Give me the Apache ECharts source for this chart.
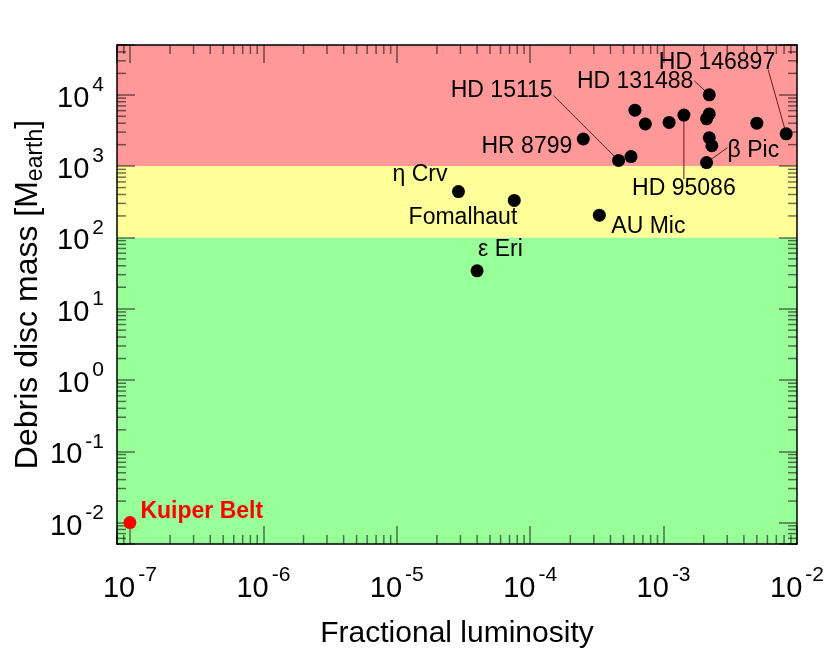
<!DOCTYPE html>
<html><head><meta charset="utf-8">
<script src="https://cdn.jsdelivr.net/npm/echarts@6/dist/echarts.min.js"></script>
<style>html,body{margin:0;padding:0;background:#fff}#c{width:830px;height:664px}</style>
</head><body><div id="c"></div>
<script>
// ---- data ----
const discNames = ['η Crv','Fomalhaut','ε Eri','AU Mic','HR 8799','HD 15115','','','','','HD 95086','HD 131488','','','','','β Pic','','HD 146897'];
const discLum  = [2.9e-5, 7.6e-5, 4.0e-5, 3.3e-4, 2.5e-4, 4.6e-4, 5.7e-4, 6.1e-4, 7.3e-4, 1.1e-3, 1.42e-3, 2.2e-3, 2.2e-3, 2.1e-3, 2.2e-3, 2.3e-3, 2.1e-3, 5.0e-3, 8.3e-3];
const discMass = [440, 330, 34, 205, 2400, 1200, 1360, 6100, 3900, 4100, 5200, 10000, 5400, 4600, 2500, 1930, 1120, 4000, 2840];
const kuiperNames = ['Kuiper Belt'];
const kuiperLum = [1e-7];
const kuiperMass = [0.01];
const xMin = 8e-8, xMax = 1e-2;
const yMin = 5e-3, yMax = 5e4;
const zoneEdges = [5e-3, 100, 1000, 5e4];
const minorMult = [2,3,4,5,6,7,8,9];
const xDecades = [-8,-7,-6,-5,-4,-3];
const yDecades = [-3,-2,-1,0,1,2,3,4];

// ---- styles ----
const FONT = '"Liberation Sans", Arial, Helvetica, sans-serif';
const zoneColors = ['#99ff99', '#ffff99', '#ff9999'];
const tickColor = 'rgba(0,0,0,0.55)';
const labelPlacement = {
  'η Crv': {dx: -11, dy: -17, align: 'right'},
  'Fomalhaut': {dx: 3, dy: 17, align: 'right'},
  'ε Eri': {dx: 1, dy: -21, align: 'left'},
  'AU Mic': {dx: 12, dy: 11, align: 'left'},
  'HR 8799': {dx: -11, dy: 8, align: 'right'},
  'HD 15115': {dx: -66, dy: -70, align: 'right', line: [-65, -65]},
  'HD 131488': {dx: -16, dy: -13, align: 'right', line: [-15, -14]},
  'HD 146897': {dx: -11, dy: -71, align: 'right', line: [-18, -64]},
  'HD 95086': {dx: 0, dy: 74, align: 'center', line: [0, 64]},
  'β Pic': {dx: 21, dy: -12, align: 'left', line: [21, -15]}
};

function powLabel(v) {
  const e = Math.log10(v), r = Math.round(e);
  if (Math.abs(e - r) > 1e-6) return '';
  return '{base|10}{sup|' + r + '}';
}
const richLabel = {
  base: {fontSize: 29, fontFamily: FONT, color: '#000', lineHeight: 48},
  sup: {fontSize: 21, fontFamily: FONT, color: '#000', verticalAlign: 'top', lineHeight: 21, padding: [0, 0, 0, 3]}
};

const xMinor = [], yMinor = [];
xDecades.forEach(e => minorMult.forEach(m => { const v = m * Math.pow(10, e); if (v >= xMin && v <= xMax) xMinor.push([v, 1]); }));
yDecades.forEach(e => minorMult.forEach(m => { const v = m * Math.pow(10, e); if (v >= yMin && v <= yMax) yMinor.push([1e-4, v]); }));

const zoneData = [];
for (let i = 0; i < zoneColors.length; i++) {
  zoneData.push([{yAxis: zoneEdges[i], itemStyle: {color: zoneColors[i], opacity: 1}}, {yAxis: zoneEdges[i + 1]}]);
}

const annotData = [];
discNames.forEach((n, i) => { if (n) annotData.push([discLum[i], discMass[i], n]); });

function axisCommon(pos, showLabel) {
  return {
    type: 'log', logBase: 10, position: pos, z: 3,
    axisLine: {show: true, lineStyle: {color: '#000', width: 1.5}},
    axisTick: {show: true, inside: true, length: 18, lineStyle: {color: tickColor, width: 1.5}},
    minorTick: {show: false},
    splitLine: {show: false},
    axisLabel: showLabel ? {
      formatter: v => powLabel(v), rich: richLabel, fontSize: 29, fontFamily: FONT, color: '#000',
      showMinLabel: true, showMaxLabel: true
    } : {show: false}
  };
}

const chart = echarts.init(document.getElementById('c'), null, {renderer: 'canvas'});
const xBottom = Object.assign(axisCommon('bottom', true), {
  min: xMin, max: xMax, name: 'Fractional luminosity', nameLocation: 'middle', nameGap: 75,
  nameTextStyle: {fontSize: 30, fontFamily: FONT, color: '#000'}
});
xBottom.axisLabel.margin = 21;
const xTop = Object.assign(axisCommon('top', false), {min: xMin, max: xMax});
const yLeft = Object.assign(axisCommon('left', true), {
  min: yMin, max: yMax, splitNumber: 7,
  name: 'Debris disc mass [M{sub|earth}]', nameLocation: 'middle', nameGap: 70, nameMoveOverlap: false,
  nameTextStyle: {fontSize: 32, fontFamily: FONT, color: '#000', lineHeight: 37,
    rich: {sub: {fontSize: 23, fontFamily: FONT, color: '#000', verticalAlign: 'bottom', lineHeight: 23}}}
});
yLeft.axisLabel.margin = 13;
yLeft.axisLabel.padding = [8, 0, 0, 0];
const yRight = Object.assign(axisCommon('right', false), {min: yMin, max: yMax, splitNumber: 7});

chart.setOption({
  animation: false,
  backgroundColor: '#fff',
  grid: {left: 117, right: 33, top: 45, bottom: 120, containLabel: false, outerBoundsMode: 'none'},
  xAxis: [xBottom, xTop],
  yAxis: [yLeft, yRight],
  series: [
    { // colored mass zones
      type: 'scatter', data: [], z: 1, silent: true,
      markArea: {silent: true, data: zoneData, label: {show: false}}
    },
    { // minor x ticks
      type: 'custom', z: 3, silent: true, data: xMinor,
      renderItem(params, api) {
        const cs = params.coordSys;
        const x = api.coord([api.value(0), api.value(1)])[0];
        const st = {stroke: tickColor, lineWidth: 1.5};
        return {type: 'group', children: [
          {type: 'line', shape: {x1: x, y1: cs.y + cs.height, x2: x, y2: cs.y + cs.height - 9}, style: st},
          {type: 'line', shape: {x1: x, y1: cs.y, x2: x, y2: cs.y + 9}, style: st}
        ]};
      }
    },
    { // minor y ticks
      type: 'custom', z: 3, silent: true, data: yMinor,
      renderItem(params, api) {
        const cs = params.coordSys;
        const y = api.coord([api.value(0), api.value(1)])[1];
        const st = {stroke: tickColor, lineWidth: 1.5};
        return {type: 'group', children: [
          {type: 'line', shape: {x1: cs.x, y1: y, x2: cs.x + 9, y2: y}, style: st},
          {type: 'line', shape: {x1: cs.x + cs.width, y1: y, x2: cs.x + cs.width - 9, y2: y}, style: st}
        ]};
      }
    },
    { // labels & leader lines
      type: 'custom', z: 4, silent: true, data: annotData,
      renderItem(params, api) {
        const p = api.coord([api.value(0), api.value(1)]);
        const name = annotData[params.dataIndex][2];
        const pl = labelPlacement[name];
        const children = [];
        if (pl.line) children.push({type: 'line', shape: {x1: p[0], y1: p[1], x2: p[0] + pl.line[0], y2: p[1] + pl.line[1]},
          style: {stroke: '#6a1a1a', lineWidth: 1}});
        children.push({type: 'text', x: p[0] + pl.dx, y: p[1] + pl.dy,
          style: {text: name, fill: '#000', font: '23px ' + FONT, align: pl.align, verticalAlign: 'middle'}});
        return {type: 'group', children};
      }
    },
    {
      type: 'scatter', z: 5, symbol: 'circle', symbolSize: 13,
      itemStyle: {color: '#000', opacity: 1},
      data: discLum.map((l, i) => [l, discMass[i]])
    },
    {
      type: 'scatter', z: 5, symbol: 'circle', symbolSize: 13,
      itemStyle: {color: '#ff0000', opacity: 1},
      data: kuiperLum.map((l, i) => [l, kuiperMass[i]]),
      label: {show: true, position: 'right', formatter: () => kuiperNames[0], color: '#ff0000',
        fontWeight: 'bold', fontSize: 23, fontFamily: FONT, offset: [0, -11], distance: 4}
    }
  ]
});
</script></body></html>
